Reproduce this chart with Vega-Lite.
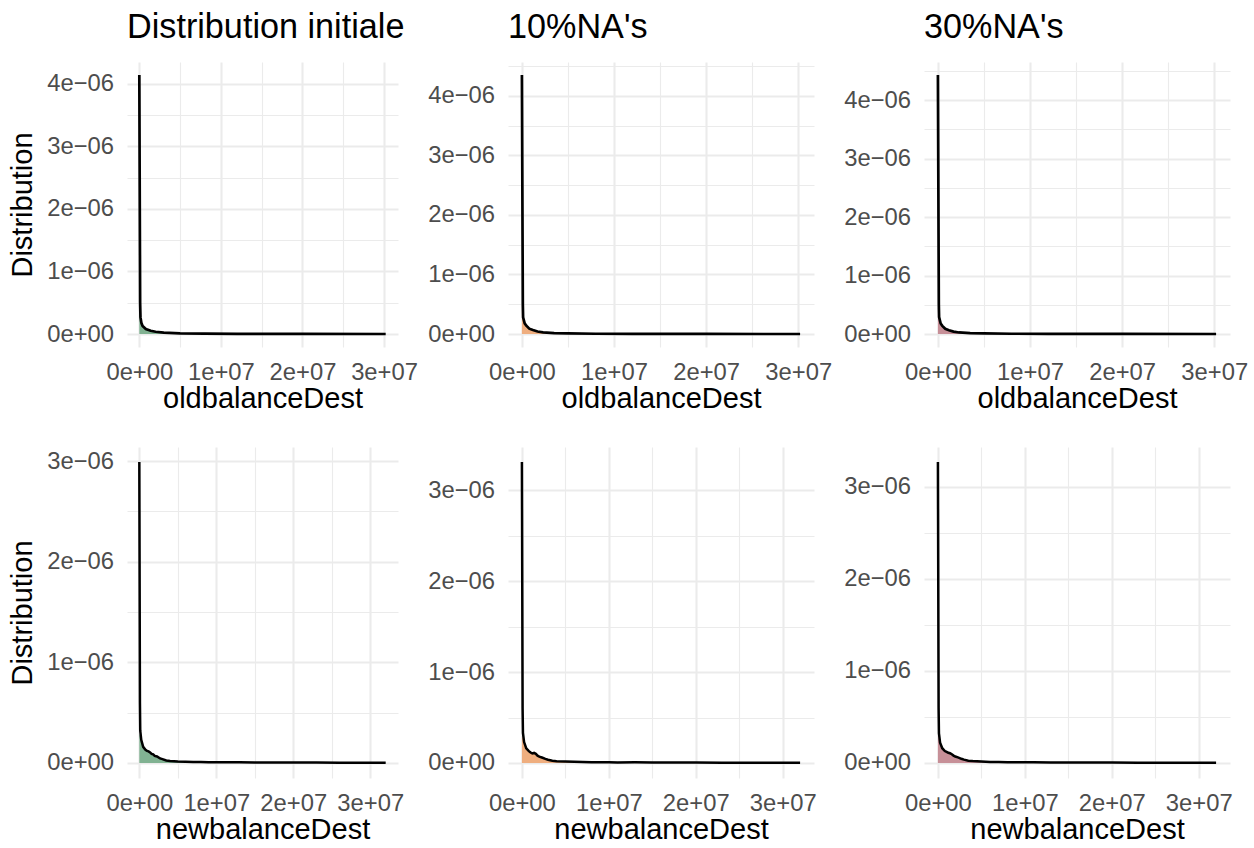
{
  "$schema": "https://vega.github.io/schema/vega-lite/v6.json",
  "background": "white",
  "padding": {"left": 8, "top": 10, "right": 0, "bottom": 0},
  "config": {
    "font": "Liberation Sans",
    "view": {"stroke": null},
    "axis": {
      "labelFont": "Liberation Sans", "labelColor": "#4d4d4d",
      "titleFont": "Liberation Sans", "titleFontSize": 29, "titleColor": "black", "titleFontWeight": "normal",
      "ticks": false, "tickSize": 0, "domain": false, "gridColor": "#ebebeb",
      "labelPadding": 13, "labelFlush": false, "labelOverlap": false, "labelBound": false
    },
    "axisX": {
      "titlePadding": 1,
      "labelExpr": "abs(datum.value/1e7 - round(datum.value/1e7)) < 0.01 ? (datum.value == 0 ? '0e+00' : round(datum.value/1e7) + 'e+07') : ''",
      "labelFontSize": {"condition": {"test": "abs(datum.value/1e7 - round(datum.value/1e7)) > 0.01", "value": 0}, "value": 23.8},
      "gridWidth": {"condition": {"test": "abs(datum.value/1e7 - round(datum.value/1e7)) > 0.01", "value": 1.1}, "value": 2.1}
    },
    "axisY": {
      "titlePadding": 9, "labelPadding": 13.5,
      "labelExpr": "abs(datum.value*1e6 - round(datum.value*1e6)) < 0.01 ? (datum.value == 0 ? '0e+00' : round(datum.value*1e6) + 'e\u221206') : ''",
      "labelFontSize": {"condition": {"test": "abs(datum.value*1e6 - round(datum.value*1e6)) > 0.01", "value": 0}, "value": 23.8},
      "gridWidth": {"condition": {"test": "abs(datum.value*1e6 - round(datum.value*1e6)) > 0.01", "value": 1.1}, "value": 2.1}
    },
    "title": {"font": "Liberation Sans", "fontSize": 34.2, "fontWeight": "normal", "color": "black", "anchor": "start", "frame": "group", "baseline": "alphabetic", "offset": 17}
  },
  "columns": 3,
  "align": "each",
  "bounds": "flush",
  "spacing": {"row": 100, "column": 110},
  "datasets": {
    "d": [
      {"p":"a1","k":"l","x":0,"y":4.14e-6},{"p":"a1","k":"l","x":100000,"y":5e-7},{"p":"a1","k":"l","x":140000,"y":2.7e-7},{"p":"a1","k":"l","x":250000,"y":1.8e-7},{"p":"a1","k":"l","x":400000,"y":1.3e-7},{"p":"a1","k":"l","x":800000,"y":8e-8},{"p":"a1","k":"l","x":1400000,"y":5.3e-8},{"p":"a1","k":"l","x":2000000,"y":3.7e-8},{"p":"a1","k":"l","x":3000000,"y":2.2e-8},{"p":"a1","k":"l","x":5000000,"y":1.1e-8},{"p":"a1","k":"l","x":8000000,"y":6e-9},{"p":"a1","k":"l","x":12000000,"y":3e-9},{"p":"a1","k":"l","x":20000000,"y":1.5e-9},{"p":"a1","k":"l","x":30200000,"y":8e-10},
      {"p":"a1","k":"f","x":0,"y":3.5e-7},{"p":"a1","k":"f","x":140000,"y":2.7e-7},{"p":"a1","k":"f","x":250000,"y":1.8e-7},{"p":"a1","k":"f","x":400000,"y":1.3e-7},{"p":"a1","k":"f","x":800000,"y":8e-8},{"p":"a1","k":"f","x":1400000,"y":5.3e-8},{"p":"a1","k":"f","x":2000000,"y":3.7e-8},{"p":"a1","k":"f","x":3000000,"y":2.2e-8},{"p":"a1","k":"f","x":5000000,"y":1.1e-8},{"p":"a1","k":"f","x":8000000,"y":6e-9},{"p":"a1","k":"f","x":12000000,"y":3e-9},{"p":"a1","k":"f","x":20000000,"y":1.5e-9},{"p":"a1","k":"f","x":30200000,"y":8e-10},

      {"p":"b1","k":"l","x":0,"y":4.35e-6},{"p":"b1","k":"l","x":100000,"y":5e-7},{"p":"b1","k":"l","x":130000,"y":2.8e-7},{"p":"b1","k":"l","x":300000,"y":1.8e-7},{"p":"b1","k":"l","x":480000,"y":1.4e-7},{"p":"b1","k":"l","x":800000,"y":9e-8},{"p":"b1","k":"l","x":1200000,"y":6.7e-8},{"p":"b1","k":"l","x":1700000,"y":4.2e-8},{"p":"b1","k":"l","x":2300000,"y":2.7e-8},{"p":"b1","k":"l","x":3500000,"y":1.5e-8},{"p":"b1","k":"l","x":5000000,"y":1e-8},{"p":"b1","k":"l","x":8000000,"y":5e-9},{"p":"b1","k":"l","x":12000000,"y":3e-9},{"p":"b1","k":"l","x":20000000,"y":1.5e-9},{"p":"b1","k":"l","x":30200000,"y":8e-10},
      {"p":"b1","k":"f","x":0,"y":5e-7},{"p":"b1","k":"f","x":130000,"y":2.8e-7},{"p":"b1","k":"f","x":300000,"y":1.8e-7},{"p":"b1","k":"f","x":480000,"y":1.4e-7},{"p":"b1","k":"f","x":800000,"y":9e-8},{"p":"b1","k":"f","x":1200000,"y":6.7e-8},{"p":"b1","k":"f","x":1700000,"y":4.2e-8},{"p":"b1","k":"f","x":2300000,"y":2.7e-8},{"p":"b1","k":"f","x":3500000,"y":1.5e-8},{"p":"b1","k":"f","x":5000000,"y":1e-8},{"p":"b1","k":"f","x":8000000,"y":5e-9},{"p":"b1","k":"f","x":12000000,"y":3e-9},{"p":"b1","k":"f","x":20000000,"y":1.5e-9},{"p":"b1","k":"f","x":30200000,"y":8e-10},

      {"p":"c1","k":"l","x":0,"y":4.43e-6},{"p":"c1","k":"l","x":100000,"y":5e-7},{"p":"c1","k":"l","x":130000,"y":2.9e-7},{"p":"c1","k":"l","x":300000,"y":1.8e-7},{"p":"c1","k":"l","x":480000,"y":1.4e-7},{"p":"c1","k":"l","x":800000,"y":9e-8},{"p":"c1","k":"l","x":1200000,"y":6.5e-8},{"p":"c1","k":"l","x":1700000,"y":4.2e-8},{"p":"c1","k":"l","x":2300000,"y":2.7e-8},{"p":"c1","k":"l","x":3500000,"y":1.5e-8},{"p":"c1","k":"l","x":5000000,"y":1e-8},{"p":"c1","k":"l","x":8000000,"y":5e-9},{"p":"c1","k":"l","x":12000000,"y":3e-9},{"p":"c1","k":"l","x":20000000,"y":1.5e-9},{"p":"c1","k":"l","x":30200000,"y":8e-10},
      {"p":"c1","k":"f","x":0,"y":4.6e-7},{"p":"c1","k":"f","x":130000,"y":2.9e-7},{"p":"c1","k":"f","x":300000,"y":1.8e-7},{"p":"c1","k":"f","x":480000,"y":1.4e-7},{"p":"c1","k":"f","x":800000,"y":9e-8},{"p":"c1","k":"f","x":1200000,"y":6.5e-8},{"p":"c1","k":"f","x":1700000,"y":4.2e-8},{"p":"c1","k":"f","x":2300000,"y":2.7e-8},{"p":"c1","k":"f","x":3500000,"y":1.5e-8},{"p":"c1","k":"f","x":5000000,"y":1e-8},{"p":"c1","k":"f","x":8000000,"y":5e-9},{"p":"c1","k":"f","x":12000000,"y":3e-9},{"p":"c1","k":"f","x":20000000,"y":1.5e-9},{"p":"c1","k":"f","x":30200000,"y":8e-10},

      {"p":"a2","k":"l","x":0,"y":2.99e-6},{"p":"a2","k":"l","x":80000,"y":6e-7},{"p":"a2","k":"l","x":120000,"y":3.2e-7},{"p":"a2","k":"l","x":250000,"y":2.3e-7},{"p":"a2","k":"l","x":500000,"y":1.6e-7},{"p":"a2","k":"l","x":800000,"y":1.3e-7},{"p":"a2","k":"l","x":1000000,"y":1.2e-7},{"p":"a2","k":"l","x":1200000,"y":1.15e-7},{"p":"a2","k":"l","x":1400000,"y":1.05e-7},{"p":"a2","k":"l","x":1600000,"y":9e-8},{"p":"a2","k":"l","x":1800000,"y":8.5e-8},{"p":"a2","k":"l","x":2000000,"y":7e-8},{"p":"a2","k":"l","x":2300000,"y":6.5e-8},{"p":"a2","k":"l","x":2700000,"y":4.5e-8},{"p":"a2","k":"l","x":3000000,"y":3.8e-8},{"p":"a2","k":"l","x":3500000,"y":2.4e-8},{"p":"a2","k":"l","x":4000000,"y":2e-8},{"p":"a2","k":"l","x":5000000,"y":1.4e-8},{"p":"a2","k":"l","x":6000000,"y":1.2e-8},{"p":"a2","k":"l","x":7000000,"y":9e-9},{"p":"a2","k":"l","x":8000000,"y":1e-8},{"p":"a2","k":"l","x":9000000,"y":7e-9},{"p":"a2","k":"l","x":10000000,"y":8e-9},{"p":"a2","k":"l","x":11000000,"y":6e-9},{"p":"a2","k":"l","x":13000000,"y":6.5e-9},{"p":"a2","k":"l","x":15000000,"y":5e-9},{"p":"a2","k":"l","x":17000000,"y":5.5e-9},{"p":"a2","k":"l","x":20000000,"y":4e-9},{"p":"a2","k":"l","x":23000000,"y":3.5e-9},{"p":"a2","k":"l","x":26000000,"y":2.5e-9},{"p":"a2","k":"l","x":29000000,"y":2e-9},{"p":"a2","k":"l","x":32000000,"y":1.5e-9},
      {"p":"a2","k":"f","x":0,"y":2.9e-7},{"p":"a2","k":"f","x":250000,"y":2.3e-7},{"p":"a2","k":"f","x":500000,"y":1.6e-7},{"p":"a2","k":"f","x":800000,"y":1.3e-7},{"p":"a2","k":"f","x":1000000,"y":1.2e-7},{"p":"a2","k":"f","x":1200000,"y":1.15e-7},{"p":"a2","k":"f","x":1400000,"y":1.05e-7},{"p":"a2","k":"f","x":1600000,"y":9e-8},{"p":"a2","k":"f","x":1800000,"y":8.5e-8},{"p":"a2","k":"f","x":2000000,"y":7e-8},{"p":"a2","k":"f","x":2300000,"y":6.5e-8},{"p":"a2","k":"f","x":2700000,"y":4.5e-8},{"p":"a2","k":"f","x":3000000,"y":3.8e-8},{"p":"a2","k":"f","x":3500000,"y":2.4e-8},{"p":"a2","k":"f","x":4000000,"y":2e-8},{"p":"a2","k":"f","x":5000000,"y":1.4e-8},{"p":"a2","k":"f","x":7000000,"y":9e-9},{"p":"a2","k":"f","x":10000000,"y":8e-9},{"p":"a2","k":"f","x":15000000,"y":5e-9},{"p":"a2","k":"f","x":20000000,"y":4e-9},{"p":"a2","k":"f","x":26000000,"y":2.5e-9},{"p":"a2","k":"f","x":32000000,"y":1.5e-9},

      {"p":"b2","k":"l","x":0,"y":3.31e-6},{"p":"b2","k":"l","x":80000,"y":6e-7},{"p":"b2","k":"l","x":120000,"y":3.3e-7},{"p":"b2","k":"l","x":250000,"y":2.3e-7},{"p":"b2","k":"l","x":500000,"y":1.6e-7},{"p":"b2","k":"l","x":800000,"y":1.3e-7},{"p":"b2","k":"l","x":1000000,"y":1.15e-7},{"p":"b2","k":"l","x":1200000,"y":1.05e-7},{"p":"b2","k":"l","x":1400000,"y":1.1e-7},{"p":"b2","k":"l","x":1600000,"y":1e-7},{"p":"b2","k":"l","x":1800000,"y":8e-8},{"p":"b2","k":"l","x":2000000,"y":7e-8},{"p":"b2","k":"l","x":2300000,"y":6e-8},{"p":"b2","k":"l","x":2700000,"y":4.5e-8},{"p":"b2","k":"l","x":3000000,"y":3.5e-8},{"p":"b2","k":"l","x":3500000,"y":2.5e-8},{"p":"b2","k":"l","x":4000000,"y":2e-8},{"p":"b2","k":"l","x":5000000,"y":1.5e-8},{"p":"b2","k":"l","x":6000000,"y":1.2e-8},{"p":"b2","k":"l","x":7000000,"y":1e-8},{"p":"b2","k":"l","x":8000000,"y":9e-9},{"p":"b2","k":"l","x":9000000,"y":8e-9},{"p":"b2","k":"l","x":10000000,"y":8.5e-9},{"p":"b2","k":"l","x":11000000,"y":6e-9},{"p":"b2","k":"l","x":13000000,"y":7e-9},{"p":"b2","k":"l","x":15000000,"y":5e-9},{"p":"b2","k":"l","x":17000000,"y":5.5e-9},{"p":"b2","k":"l","x":20000000,"y":4e-9},{"p":"b2","k":"l","x":23000000,"y":3.5e-9},{"p":"b2","k":"l","x":26000000,"y":3e-9},{"p":"b2","k":"l","x":29000000,"y":2e-9},{"p":"b2","k":"l","x":32000000,"y":1.5e-9},
      {"p":"b2","k":"f","x":0,"y":3e-7},{"p":"b2","k":"f","x":250000,"y":2.3e-7},{"p":"b2","k":"f","x":500000,"y":1.6e-7},{"p":"b2","k":"f","x":800000,"y":1.3e-7},{"p":"b2","k":"f","x":1000000,"y":1.15e-7},{"p":"b2","k":"f","x":1200000,"y":1.05e-7},{"p":"b2","k":"f","x":1400000,"y":1.1e-7},{"p":"b2","k":"f","x":1600000,"y":1e-7},{"p":"b2","k":"f","x":1800000,"y":8e-8},{"p":"b2","k":"f","x":2000000,"y":7e-8},{"p":"b2","k":"f","x":2300000,"y":6e-8},{"p":"b2","k":"f","x":2700000,"y":4.5e-8},{"p":"b2","k":"f","x":3000000,"y":3.5e-8},{"p":"b2","k":"f","x":3500000,"y":2.5e-8},{"p":"b2","k":"f","x":4000000,"y":2e-8},{"p":"b2","k":"f","x":5000000,"y":1.5e-8},{"p":"b2","k":"f","x":7000000,"y":1e-8},{"p":"b2","k":"f","x":10000000,"y":8.5e-9},{"p":"b2","k":"f","x":15000000,"y":5e-9},{"p":"b2","k":"f","x":20000000,"y":4e-9},{"p":"b2","k":"f","x":26000000,"y":3e-9},{"p":"b2","k":"f","x":32000000,"y":1.5e-9},

      {"p":"c2","k":"l","x":0,"y":3.27e-6},{"p":"c2","k":"l","x":80000,"y":6e-7},{"p":"c2","k":"l","x":120000,"y":3.2e-7},{"p":"c2","k":"l","x":250000,"y":2.2e-7},{"p":"c2","k":"l","x":500000,"y":1.6e-7},{"p":"c2","k":"l","x":800000,"y":1.3e-7},{"p":"c2","k":"l","x":1000000,"y":1.2e-7},{"p":"c2","k":"l","x":1200000,"y":1.1e-7},{"p":"c2","k":"l","x":1400000,"y":1.05e-7},{"p":"c2","k":"l","x":1600000,"y":9.5e-8},{"p":"c2","k":"l","x":1800000,"y":8e-8},{"p":"c2","k":"l","x":2000000,"y":7e-8},{"p":"c2","k":"l","x":2300000,"y":6e-8},{"p":"c2","k":"l","x":2700000,"y":4.5e-8},{"p":"c2","k":"l","x":3000000,"y":3.6e-8},{"p":"c2","k":"l","x":3500000,"y":2.5e-8},{"p":"c2","k":"l","x":4000000,"y":2e-8},{"p":"c2","k":"l","x":5000000,"y":1.5e-8},{"p":"c2","k":"l","x":6000000,"y":1.1e-8},{"p":"c2","k":"l","x":7000000,"y":1e-8},{"p":"c2","k":"l","x":8000000,"y":8e-9},{"p":"c2","k":"l","x":9000000,"y":9e-9},{"p":"c2","k":"l","x":10000000,"y":7e-9},{"p":"c2","k":"l","x":11000000,"y":7.5e-9},{"p":"c2","k":"l","x":13000000,"y":6e-9},{"p":"c2","k":"l","x":15000000,"y":5.5e-9},{"p":"c2","k":"l","x":17000000,"y":5e-9},{"p":"c2","k":"l","x":20000000,"y":4e-9},{"p":"c2","k":"l","x":23000000,"y":3.5e-9},{"p":"c2","k":"l","x":26000000,"y":2.5e-9},{"p":"c2","k":"l","x":29000000,"y":2e-9},{"p":"c2","k":"l","x":32000000,"y":1.5e-9},
      {"p":"c2","k":"f","x":0,"y":3e-7},{"p":"c2","k":"f","x":250000,"y":2.2e-7},{"p":"c2","k":"f","x":500000,"y":1.6e-7},{"p":"c2","k":"f","x":800000,"y":1.3e-7},{"p":"c2","k":"f","x":1000000,"y":1.2e-7},{"p":"c2","k":"f","x":1200000,"y":1.1e-7},{"p":"c2","k":"f","x":1400000,"y":1.05e-7},{"p":"c2","k":"f","x":1600000,"y":9.5e-8},{"p":"c2","k":"f","x":1800000,"y":8e-8},{"p":"c2","k":"f","x":2000000,"y":7e-8},{"p":"c2","k":"f","x":2300000,"y":6e-8},{"p":"c2","k":"f","x":2700000,"y":4.5e-8},{"p":"c2","k":"f","x":3000000,"y":3.6e-8},{"p":"c2","k":"f","x":3500000,"y":2.5e-8},{"p":"c2","k":"f","x":4000000,"y":2e-8},{"p":"c2","k":"f","x":5000000,"y":1.5e-8},{"p":"c2","k":"f","x":7000000,"y":1e-8},{"p":"c2","k":"f","x":10000000,"y":7e-9},{"p":"c2","k":"f","x":15000000,"y":5.5e-9},{"p":"c2","k":"f","x":20000000,"y":4e-9},{"p":"c2","k":"f","x":26000000,"y":2.5e-9},{"p":"c2","k":"f","x":32000000,"y":1.5e-9}
    ]
  },
  "concat": [
    {
      "width": 271, "height": 285, "title": "Distribution initiale",
      "data": {"name": "d"}, "transform": [{"filter": "datum.p=='a1'"}],
      "encoding": {
        "x": {"field": "x", "type": "quantitative", "scale": {"domain": [-1510000, 31710000], "nice": false, "zero": false}, "axis": {"title": "oldbalanceDest", "values": [0,5000000,10000000,15000000,20000000,25000000,30000000]}},
        "y": {"field": "y", "type": "quantitative", "scale": {"domain": [-2.07e-7, 4.347e-6], "nice": false, "zero": false}, "axis": {"title": "Distribution", "values": [0,5e-7,1e-6,1.5e-6,2e-6,2.5e-6,3e-6,3.5e-6,4e-6]}}
      },
      "layer": [
        {"transform": [{"filter": "datum.k=='f'"}], "mark": {"type": "area", "color": "#7aae8c", "opacity": 0.95}, "encoding": {"y2": {"datum": 0}}},
        {"transform": [{"filter": "datum.k=='l'"}], "mark": {"type": "line", "color": "black", "strokeWidth": 2.7}, "encoding": {}}
      ]
    },
    {
      "width": 306, "height": 285, "title": "10%NA's",
      "data": {"name": "d"}, "transform": [{"filter": "datum.p=='b1'"}],
      "encoding": {
        "x": {"field": "x", "type": "quantitative", "scale": {"domain": [-1510000, 31710000], "nice": false, "zero": false}, "axis": {"title": "oldbalanceDest", "values": [0,5000000,10000000,15000000,20000000,25000000,30000000]}},
        "y": {"field": "y", "type": "quantitative", "scale": {"domain": [-2.175e-7, 4.5675e-6], "nice": false, "zero": false}, "axis": {"title": null, "values": [0,5e-7,1e-6,1.5e-6,2e-6,2.5e-6,3e-6,3.5e-6,4e-6,4.5e-6]}}
      },
      "layer": [
        {"transform": [{"filter": "datum.k=='f'"}], "mark": {"type": "area", "color": "#eeaa78", "opacity": 0.95}, "encoding": {"y2": {"datum": 0}}},
        {"transform": [{"filter": "datum.k=='l'"}], "mark": {"type": "line", "color": "black", "strokeWidth": 2.7}, "encoding": {}}
      ]
    },
    {
      "width": 306, "height": 285, "title": "30%NA's",
      "data": {"name": "d"}, "transform": [{"filter": "datum.p=='c1'"}],
      "encoding": {
        "x": {"field": "x", "type": "quantitative", "scale": {"domain": [-1510000, 31710000], "nice": false, "zero": false}, "axis": {"title": "oldbalanceDest", "values": [0,5000000,10000000,15000000,20000000,25000000,30000000]}},
        "y": {"field": "y", "type": "quantitative", "scale": {"domain": [-2.215e-7, 4.6515e-6], "nice": false, "zero": false}, "axis": {"title": null, "values": [0,5e-7,1e-6,1.5e-6,2e-6,2.5e-6,3e-6,3.5e-6,4e-6,4.5e-6]}}
      },
      "layer": [
        {"transform": [{"filter": "datum.k=='f'"}], "mark": {"type": "area", "color": "#c48a92", "opacity": 0.95}, "encoding": {"y2": {"datum": 0}}},
        {"transform": [{"filter": "datum.k=='l'"}], "mark": {"type": "line", "color": "black", "strokeWidth": 2.7}, "encoding": {}}
      ]
    },
    {
      "width": 271, "height": 331,
      "data": {"name": "d"}, "transform": [{"filter": "datum.p=='a2'"}],
      "encoding": {
        "x": {"field": "x", "type": "quantitative", "scale": {"domain": [-1600000, 33600000], "nice": false, "zero": false}, "axis": {"title": "newbalanceDest", "values": [0,5000000,10000000,15000000,20000000,25000000,30000000]}},
        "y": {"field": "y", "type": "quantitative", "scale": {"domain": [-1.495e-7, 3.1395e-6], "nice": false, "zero": false}, "axis": {"title": "Distribution", "values": [0,5e-7,1e-6,1.5e-6,2e-6,2.5e-6,3e-6]}}
      },
      "layer": [
        {"transform": [{"filter": "datum.k=='f'"}], "mark": {"type": "area", "color": "#7aae8c", "opacity": 0.95}, "encoding": {"y2": {"datum": 0}}},
        {"transform": [{"filter": "datum.k=='l'"}], "mark": {"type": "line", "color": "black", "strokeWidth": 2.5}, "encoding": {}}
      ]
    },
    {
      "width": 306, "height": 331,
      "data": {"name": "d"}, "transform": [{"filter": "datum.p=='b2'"}],
      "encoding": {
        "x": {"field": "x", "type": "quantitative", "scale": {"domain": [-1600000, 33600000], "nice": false, "zero": false}, "axis": {"title": "newbalanceDest", "values": [0,5000000,10000000,15000000,20000000,25000000,30000000]}},
        "y": {"field": "y", "type": "quantitative", "scale": {"domain": [-1.655e-7, 3.4755e-6], "nice": false, "zero": false}, "axis": {"title": null, "values": [0,5e-7,1e-6,1.5e-6,2e-6,2.5e-6,3e-6]}}
      },
      "layer": [
        {"transform": [{"filter": "datum.k=='f'"}], "mark": {"type": "area", "color": "#eeaa78", "opacity": 0.95}, "encoding": {"y2": {"datum": 0}}},
        {"transform": [{"filter": "datum.k=='l'"}], "mark": {"type": "line", "color": "black", "strokeWidth": 2.5}, "encoding": {}}
      ]
    },
    {
      "width": 306, "height": 331,
      "data": {"name": "d"}, "transform": [{"filter": "datum.p=='c2'"}],
      "encoding": {
        "x": {"field": "x", "type": "quantitative", "scale": {"domain": [-1600000, 33600000], "nice": false, "zero": false}, "axis": {"title": "newbalanceDest", "values": [0,5000000,10000000,15000000,20000000,25000000,30000000]}},
        "y": {"field": "y", "type": "quantitative", "scale": {"domain": [-1.635e-7, 3.4335e-6], "nice": false, "zero": false}, "axis": {"title": null, "values": [0,5e-7,1e-6,1.5e-6,2e-6,2.5e-6,3e-6]}}
      },
      "layer": [
        {"transform": [{"filter": "datum.k=='f'"}], "mark": {"type": "area", "color": "#c48a92", "opacity": 0.95}, "encoding": {"y2": {"datum": 0}}},
        {"transform": [{"filter": "datum.k=='l'"}], "mark": {"type": "line", "color": "black", "strokeWidth": 2.5}, "encoding": {}}
      ]
    }
  ]
}
